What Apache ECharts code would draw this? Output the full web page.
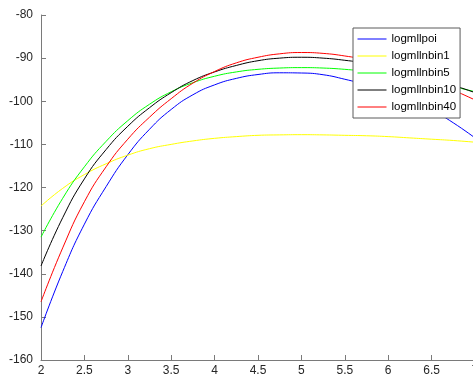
<!DOCTYPE html>
<html>
<head>
<meta charset="utf-8">
<script src="https://cdn.jsdelivr.net/npm/echarts@6/dist/echarts.min.js"></script>
<style>
  html, body { margin: 0; padding: 0; background: #fff; }
  #chart { width: 473px; height: 378px; }
</style>
</head>
<body>
<div id="chart"></div>
<script>
  // sample positions along x
  const xs = [2, 2.25, 2.5, 2.75, 3, 3.25, 3.5, 3.75, 4, 4.25, 4.5, 4.75, 5, 5.25, 5.5, 5.75, 6, 6.25, 6.5, 6.75, 7];

  const seriesNames = ["logmllpoi", "logmllnbin1", "logmllnbin5", "logmllnbin10", "logmllnbin40"];
  const seriesColors = ["#0000ff", "#ffff00", "#00ff00", "#000000", "#ff0000"];

  const logmllpoi = [-152.5, -139.5, -128.5, -119.8, -112.4, -106.5, -101.9, -98.5, -96.2, -94.7, -93.8, -93.4, -93.45, -93.85, -94.9, -96.2, -97.8, -99.7, -102.0, -105.0, -108.5];
  const logmllnbin1 = [-124.3, -120.2, -117.0, -114.5, -112.5, -111.0, -110.0, -109.2, -108.6, -108.2, -107.9, -107.8, -107.75, -107.8, -107.9, -108.0, -108.2, -108.5, -108.8, -109.1, -109.5];
  const logmllnbin5 = [-131.5, -122.5, -115.2, -109.3, -104.5, -100.7, -97.8, -95.7, -94.2, -93.2, -92.6, -92.3, -92.2, -92.3, -92.6, -93.1, -93.8, -94.6, -95.5, -96.6, -97.8];
  const logmllnbin10 = [-138.2, -127.0, -118.0, -111.2, -105.8, -101.5, -98.0, -95.2, -93.2, -91.7, -90.6, -90.0, -89.8, -90.0, -90.5, -91.2, -92.2, -93.4, -94.8, -96.3, -98.0];
  const logmllnbin40 = [-146.5, -134.0, -123.3, -115.2, -108.8, -103.7, -99.4, -95.8, -93.1, -91.1, -89.8, -89.0, -88.7, -88.9, -89.5, -90.4, -91.7, -93.2, -95.2, -97.4, -99.7];

  const allValues = [logmllpoi, logmllnbin1, logmllnbin5, logmllnbin10, logmllnbin40];

  const myChart = echarts.init(document.getElementById("chart"));

  const axisCommon = {
    type: "value",
    splitLine: { show: false },
    axisLine: { show: true, lineStyle: { color: "#7a7a7a", width: 1 } },
    axisTick: { show: true, inside: true, length: 5, lineStyle: { color: "#7a7a7a" } },
    axisLabel: {
      color: "#262626",
      fontSize: 12,
      fontFamily: "Liberation Sans",
    },
  };

  const option = {
    animation: false,
    backgroundColor: "#fff",
    grid: {
      left: 41,
      top: 15,
      width: 434,
      height: 345,
      containLabel: false,
      outerBoundsMode: "none",
    },
    xAxis: {
      ...axisCommon,
      min: 2,
      max: 7,
      interval: 0.5,
      axisLabel: { ...axisCommon.axisLabel, margin: 5 },
    },
    yAxis: {
      ...axisCommon,
      min: -160,
      max: -80,
      interval: 10,
      axisLabel: { ...axisCommon.axisLabel, margin: 8 },
    },
    legend: {
      orient: "vertical",
      left: 353,
      top: 28,
      padding: [5, 4, 5, 4],
      itemGap: 5,
      itemWidth: 29,
      itemHeight: 12,
      borderColor: "#5a5a5a",
      borderWidth: 1,
      backgroundColor: "#fff",
      itemStyle: { opacity: 0 },
      lineStyle: { width: 1 },
      textStyle: {
        color: "#000",
        fontSize: 11.5,
        fontFamily: "Liberation Sans",
      },
      data: seriesNames,
    },
    series: seriesNames.map((name, i) => ({
      name,
      type: "line",
      symbol: "none",
      smooth: 0.5,
      lineStyle: { width: 1, color: seriesColors[i] },
      itemStyle: { color: seriesColors[i] },
      data: xs.map((x, j) => [x, allValues[i][j]]),
    })),
  };

  myChart.setOption(option);
</script>
</body>
</html>
